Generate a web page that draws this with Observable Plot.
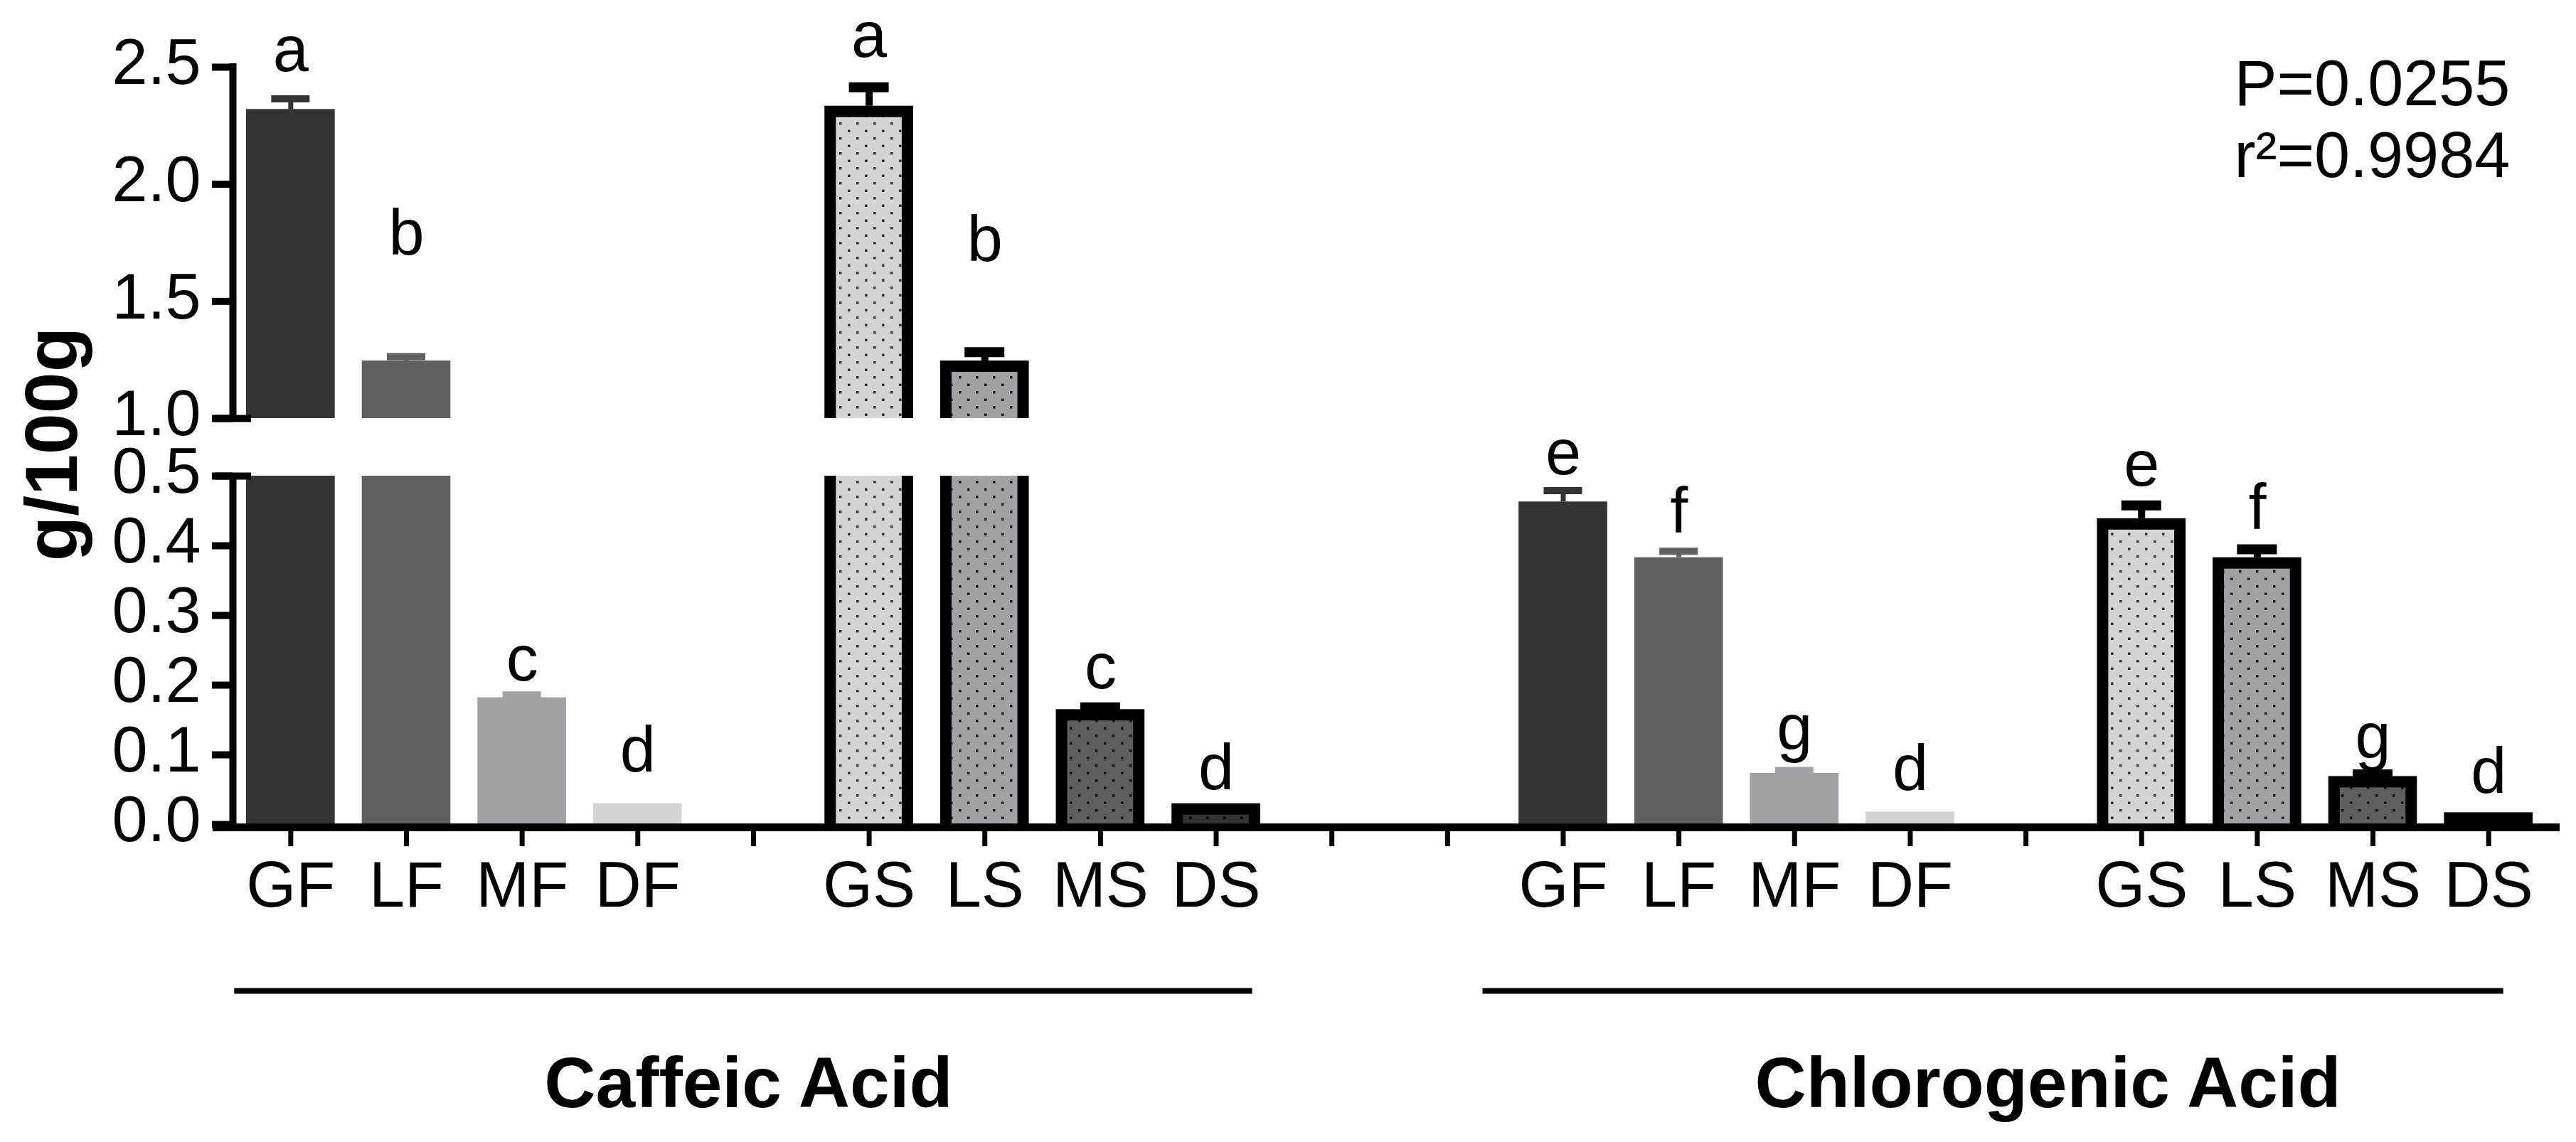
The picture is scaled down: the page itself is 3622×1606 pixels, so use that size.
<!DOCTYPE html>
<html>
<head>
<meta charset="utf-8">
<script src="https://cdn.jsdelivr.net/npm/d3@7"></script>
<script src="https://cdn.jsdelivr.net/npm/@observablehq/plot@0.6"></script>
<style>
  html, body { margin: 0; padding: 0; background: #ffffff; }
  #chart { width: 3622px; height: 1606px; }
  #defs { position: absolute; width: 0; height: 0; }
</style>
</head>
<body>
<svg id="defs" width="0" height="0" aria-hidden="true">
  <defs>
    <pattern id="dotGS" width="24" height="21" patternUnits="userSpaceOnUse">
      <rect width="24" height="21" fill="#d4d4d4"/>
      <rect x="4" y="4" width="3.5" height="3.5" fill="#333"/>
      <rect x="16" y="14.5" width="3.5" height="3.5" fill="#333"/>
    </pattern>
    <pattern id="dotLS" width="24" height="21" patternUnits="userSpaceOnUse">
      <rect width="24" height="21" fill="#a2a2a6"/>
      <rect x="4" y="4" width="3.5" height="3.5" fill="#1a1a1a"/>
      <rect x="16" y="14.5" width="3.5" height="3.5" fill="#1a1a1a"/>
    </pattern>
    <pattern id="dotMS" width="24" height="21" patternUnits="userSpaceOnUse">
      <rect width="24" height="21" fill="#5e5e5e"/>
      <rect x="4" y="4" width="3.5" height="3.5" fill="#111"/>
      <rect x="16" y="14.5" width="3.5" height="3.5" fill="#111"/>
    </pattern>
    <pattern id="dotDS" width="24" height="21" patternUnits="userSpaceOnUse">
      <rect width="24" height="21" fill="#333333"/>
      <rect x="4" y="4" width="3.5" height="3.5" fill="#000"/>
      <rect x="16" y="14.5" width="3.5" height="3.5" fill="#000"/>
    </pattern>
  </defs>
</svg>
<div id="chart"></div>
<script>
// ---------------- data ----------------
const categories = ["GF", "LF", "MF", "DF", "GS", "LS", "MS", "DS"];
const groups = ["Caffeic Acid", "Chlorogenic Acid"];
const caffeicMean = [2.32, 1.246, 0.182, 0.03, 2.334, 1.246, 0.165, 0.03];
const caffeicErr = [0.045, 0.018, 0.004, 0, 0.08, 0.037, 0.003, 0];
const chlorogenicMean = [0.463, 0.383, 0.0735, 0.018, 0.439, 0.383, 0.069, 0.017];
const chlorogenicErr = [0.016, 0.009, 0.004, 0, 0.019, 0.012, 0.003, 0];
const caffeicLetters = ["a", "b", "c", "d", "a", "b", "c", "d"];
const chlorogenicLetters = ["e", "f", "g", "d", "e", "f", "g", "d"];
const caffeicLetterY = [2.483, 1.70, 0.207, 0.0765, 2.545, 1.672, 0.195, 0.051];
const chlorogenicLetterY = [0.513, 0.419, 0.108, 0.049, 0.486, 0.424, 0.095, 0.045];
const slotLabels = ["GF", "LF", "MF", "DF", "", "GS", "LS", "MS", "DS", "", "",
                    "GF", "LF", "MF", "DF", "", "GS", "LS", "MS", "DS"];
const yTicksLow = [0, 0.1, 0.2, 0.3, 0.4, 0.5];
const yTicksHigh = [1.0, 1.5, 2.0, 2.5];
const yBreak = [0.5, 1.0];
const yLabel = "g/100g";
const stats = ["P=0.0255", "r²=0.9984"];

// ---------------- table ----------------
const filledSlots = slotLabels.map((l, i) => (l ? i : null)).filter(i => i !== null);
const series = [
  {mean: caffeicMean, err: caffeicErr, letters: caffeicLetters, ly: caffeicLetterY},
  {mean: chlorogenicMean, err: chlorogenicErr, letters: chlorogenicLetters, ly: chlorogenicLetterY}
];
const rows = [];
series.forEach((s, g) => {
  categories.forEach((c, k) => {
    rows.push({
      group: groups[g], cat: c, slot: filledSlots[g * categories.length + k],
      mean: s.mean[k], err: s.err[k], letter: s.letters[k], ly: s.ly[k],
      solid: c.endsWith("F")
    });
  });
});
const groupSlots = groups.map(g => {
  const sl = rows.filter(r => r.group === g).map(r => r.slot);
  return {group: g, first: d3.min(sl), last: d3.max(sl), mid: (d3.min(sl) + d3.max(sl)) / 2};
});

const segs = [];
rows.forEach(r => {
  segs.push({...r, y1: 0, y2: Math.min(r.mean, 0.5), topped: r.mean <= 0.5});
  if (r.mean > 1) segs.push({...r, y1: 1, y2: r.mean, topped: true});
});

// ---------------- styles ----------------
const solidFill = {GF: "#333333", LF: "#606060", MF: "#a2a2a6", DF: "#d4d4d4"};
const patternFill = {GS: "url(#dotGS)", LS: "url(#dotLS)", MS: "url(#dotMS)", DS: "url(#dotDS)"};
const xDomain = [-0.5, slotLabels.length - 0.5];
const FS = 90;

const solidSegs = segs.filter(s => s.solid);
const patSegs = segs.filter(s => !s.solid);
const errF = rows.filter(r => r.solid && r.err > 0);
const errS = rows.filter(r => !r.solid && r.err > 0);
const xl = s => s.slot - 0.5, xr = s => s.slot + 0.5;
const yTicksAll = yTicksLow.concat(yTicksHigh);

const chart = Plot.plot({
  width: 3622,
  height: 1606,
  marginLeft: 327,
  marginRight: 42,
  marginTop: 0,
  marginBottom: 442,
  style: {fontFamily: "'Liberation Sans', Arial, sans-serif", background: "#ffffff", color: "#000"},
  x: {type: "linear", domain: xDomain},
  y: {type: "linear", domain: [0, 0.5, 1.0, 2.5], range: [1159, 669, 588, 94]},
  color: {type: "identity"},
  marks: [
    // solid bars
    Plot.rectY(solidSegs, {x1: xl, x2: xr, y1: "y1", y2: "y2", fill: s => solidFill[s.cat], insetLeft: 19, insetRight: 19}),
    // bordered, dotted bars
    Plot.rectY(patSegs, {x1: xl, x2: xr, y1: "y1", y2: "y2", fill: "#000", insetLeft: 19, insetRight: 19}),
    Plot.rectY(patSegs.filter(s => s.topped), {x1: xl, x2: xr, y1: "y1", y2: "y2", fill: s => patternFill[s.cat], insetLeft: 35, insetRight: 35, insetTop: 16}),
    Plot.rectY(patSegs.filter(s => !s.topped), {x1: xl, x2: xr, y1: "y1", y2: "y2", fill: s => patternFill[s.cat], insetLeft: 35, insetRight: 35}),
    // error bars
    Plot.ruleX(errF, {x: "slot", y1: "mean", y2: r => r.mean + r.err, stroke: r => solidFill[r.cat], strokeWidth: 7}),
    Plot.ruleY(errF, {x1: "slot", x2: "slot", y: r => r.mean + r.err, stroke: r => solidFill[r.cat], strokeWidth: 10, insetLeft: -27, insetRight: -27}),
    Plot.ruleX(errS, {x: "slot", y1: "mean", y2: r => r.mean + r.err, stroke: "#000", strokeWidth: 10}),
    Plot.ruleY(errS, {x1: "slot", x2: "slot", y: r => r.mean + r.err, stroke: "#000", strokeWidth: 14, insetLeft: -28, insetRight: -28}),
    // significance letters
    Plot.text(rows, {x: "slot", y: "ly", text: "letter", fontSize: FS, lineAnchor: "bottom"}),
    // y axis (broken)
    Plot.ruleX([{a: 2.5, b: 1.0}], {x: () => xDomain[0], y1: "a", y2: "b", strokeWidth: 10, insetTop: -5}),
    Plot.ruleX([{a: 0.5, b: 0}], {x: () => xDomain[0], y1: "a", y2: "b", strokeWidth: 10, insetBottom: -9}),
    Plot.ruleY(yTicksAll, {x1: () => xDomain[0], x2: () => xDomain[0], strokeWidth: 10, insetLeft: -29, insetRight: 0}),
    Plot.ruleY(yBreak, {x1: () => xDomain[0], x2: () => xDomain[0], strokeWidth: 10, insetLeft: -25, insetRight: -26}),
    Plot.axisY(yTicksAll, {tickSize: 0, tickPadding: 45, fontSize: FS, tickFormat: d3.format(".1f"), label: null, dy: -5}),
    Plot.text([yLabel], {frameAnchor: "left", rotate: -90, textAnchor: "middle", fontSize: 104, fontWeight: "bold", lineAnchor: "bottom", dx: -220, dy: 42}),
    // x axis
    Plot.ruleY([0], {x1: () => xDomain[0], x2: () => xDomain[1], strokeWidth: 11, insetLeft: -28, insetRight: -19, dy: 4}),
    Plot.axisX({ticks: d3.range(slotLabels.length), tickFormat: i => slotLabels[i], tickSize: 26, tickPadding: 21, strokeWidth: 7, fontSize: FS, label: null}),
    // group lines and titles
    Plot.ruleY([0], {x1: () => groupSlots[0].first, x2: () => groupSlots[0].last, strokeWidth: 8, dy: 234, insetLeft: -79, insetRight: -51}),
    Plot.ruleY([0], {x1: () => groupSlots[1].first, x2: () => groupSlots[1].last, strokeWidth: 8, dy: 234, insetLeft: -113, insetRight: -21}),
    Plot.text([groupSlots[0]], {x: "mid", text: "group", frameAnchor: "bottom", fontSize: 100, fontWeight: "bold", lineAnchor: "bottom", dy: 392, dx: -7}),
    Plot.text([groupSlots[1]], {x: "mid", text: "group", frameAnchor: "bottom", fontSize: 100, fontWeight: "bold", lineAnchor: "bottom", dy: 392, dx: 31}),
    // statistics
    Plot.text([stats[0]], {frameAnchor: "top-right", textAnchor: "start", fontSize: FS, lineAnchor: "bottom", dx: -439, dy: 147}),
    Plot.text([stats[1]], {frameAnchor: "top-right", textAnchor: "start", fontSize: FS, lineAnchor: "bottom", dx: -439, dy: 248})
  ]
});
document.getElementById("chart").appendChild(chart);
</script>
</body>
</html>
